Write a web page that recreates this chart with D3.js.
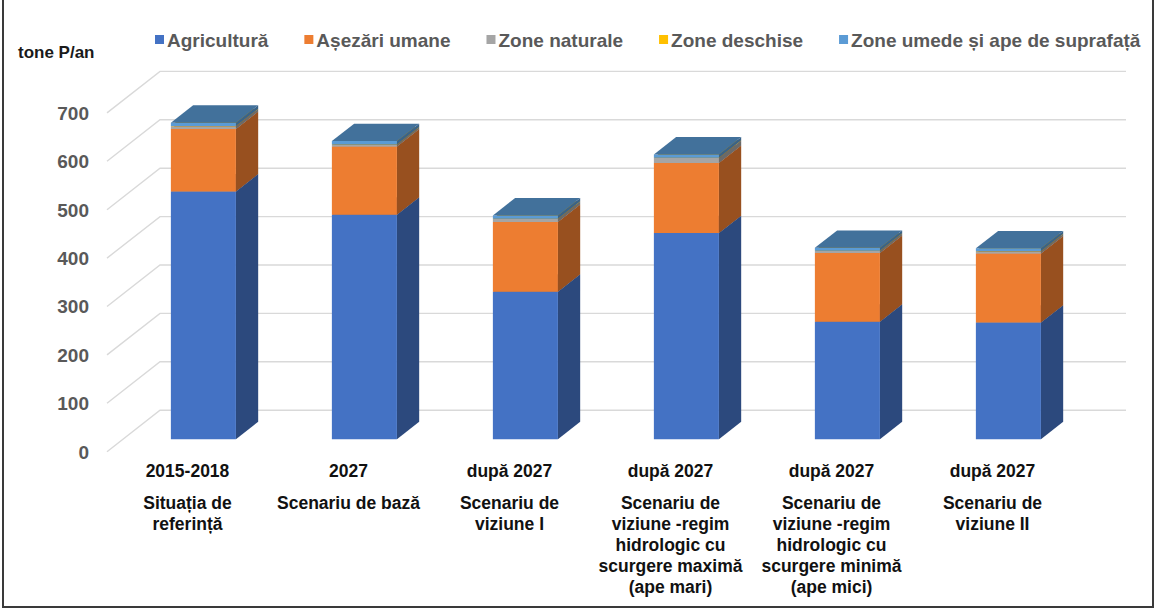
<!DOCTYPE html>
<html>
<head>
<meta charset="utf-8">
<script src="https://cdn.jsdelivr.net/npm/d3@7"></script>
<style>
  body { margin: 0; background: #fff; }
  svg { display: block; font-family: "Liberation Sans", Arial, sans-serif; }
</style>
</head>
<body>
<script>
// data (tone P/an)
const periods = ["2015-2018", "2027", "după 2027", "după 2027", "după 2027", "după 2027"];
const scenarioLines = [
  ["Situația de", "referință"],
  ["Scenariu de bază"],
  ["Scenariu de", "viziune I"],
  ["Scenariu de", "viziune -regim", "hidrologic cu", "scurgere maximă", "(ape mari)"],
  ["Scenariu de", "viziune -regim", "hidrologic cu", "scurgere minimă", "(ape mici)"],
  ["Scenariu de", "viziune II"]
];
const seriesNames = ["Agricultură", "Așezări umane", "Zone naturale", "Zone deschise", "Zone umede și ape de suprafață"];
const seriesColors = ["#4472c4", "#ed7d31", "#a5a5a5", "#ffc000", "#5b9bd5"];
const agricultura = [512, 464, 305, 426, 243, 241];
const asezariUmane = [129, 141, 144, 145, 142, 143];
const zoneNaturale = [5.5, 3.5, 6, 10, 4, 4];
const zoneDeschise = [0.5, 0.5, 0.5, 0.5, 0.5, 0.5];
const zoneUmede = [7, 7, 7, 7, 6, 6];
const yTicks = [0, 100, 200, 300, 400, 500, 600, 700];

const W = 1160, H = 611;
const svg = d3.select("body").append("svg")
  .attr("width", W)
  .attr("height", H);

// frame round the picture
svg.append("rect")
  .attr("x", 3).attr("y", -2)
  .attr("width", 1150).attr("height", 609)
  .attr("fill", "none")
  .attr("stroke", "#3a3a3a")
  .attr("stroke-width", 2);

const seriesValues = [agricultura, asezariUmane, zoneNaturale, zoneDeschise, zoneUmede];
const rows = periods.map((p, i) => {
  const r = { idx: i };
  seriesNames.forEach((s, k) => { r[s] = seriesValues[k][i]; });
  return r;
});
const stacked = d3.stack().keys(seriesNames)(rows);

// oblique 3d: z = 0 front of floor, z = 1 back wall
const depthX = 53, depthY = 41.5;
const zFront = 0.30, zBack = 0.72;

const x = d3.scaleBand()
  .domain(d3.range(periods.length))
  .range([107, 1073])
  .paddingInner(0.596)
  .paddingOuter(0.298);

const y = d3.scaleLinear()
  .domain([0, 700])
  .range([451.7, 112.9]);

const proj = (px, v, z) => [px + z * depthX, y(v) - z * depthY];
const pts = (arr) => arr.map(p => p.join(",")).join(" ");
const shade = (c, k) => { const r = d3.rgb(c); return d3.rgb(r.r * k, r.g * k, r.b * k).formatHex(); };

// gridlines: side wall diagonal + back wall horizontal
const [x0, x1] = x.range();
svg.append("g").selectAll("polyline")
  .data(yTicks)
  .join("polyline")
  .attr("points", d => pts([proj(x0, d, 0), proj(x0, d, 1), proj(x1, d, 1)]))
  .attr("fill", "none")
  .attr("stroke", "#d9d9d9")
  .attr("stroke-width", 1.4);

svg.append("g").selectAll("text")
  .data(yTicks)
  .join("text")
  .attr("x", 89)
  .attr("y", d => y(d))
  .attr("dy", "0.36em")
  .attr("text-anchor", "end")
  .attr("font-size", 19)
  .attr("font-weight", "bold")
  .attr("fill", "#595959")
  .text(d => d);

svg.append("text")
  .attr("x", 18).attr("y", 58)
  .attr("font-size", 17)
  .attr("font-weight", "bold")
  .attr("fill", "#1a1a1a")
  .text("tone P/an");

// bars, left to right, bottom segment first
const bars = svg.append("g");
periods.forEach((p, i) => {
  const bx0 = x(i), bx1 = x(i) + x.bandwidth();
  stacked.forEach((layer, k) => {
    const [v0, v1] = layer[i];
    if (v1 - v0 <= 0) return;
    const col = seriesColors[k];
    const g = bars.append("g");
    g.append("polygon")
      .attr("points", pts([proj(bx1, v0, zFront), proj(bx1, v0, zBack), proj(bx1, v1, zBack), proj(bx1, v1, zFront)]))
      .attr("fill", shade(col, 0.64));
    g.append("polygon")
      .attr("points", pts([proj(bx0, v0, zFront), proj(bx1, v0, zFront), proj(bx1, v1, zFront), proj(bx0, v1, zFront)]))
      .attr("fill", col);
    g.append("polygon")
      .attr("points", pts([proj(bx0, v1, zFront), proj(bx1, v1, zFront), proj(bx1, v1, zBack), proj(bx0, v1, zBack)]))
      .attr("fill", shade(col, 0.73));
  });
});

// category labels
const cats = svg.append("g")
  .attr("font-size", 17.5)
  .attr("font-weight", "bold")
  .attr("fill", "#111")
  .attr("text-anchor", "middle");
periods.forEach((p, i) => {
  const cx = x(i) + x.bandwidth() / 2;
  cats.append("text").attr("x", cx).attr("y", 477).text(p);
  scenarioLines[i].forEach((line, j) => {
    cats.append("text").attr("x", cx).attr("y", 509 + j * 21).text(line);
  });
});

// legend
const legend = svg.append("g");
let lx = 155;
seriesNames.forEach((s, k) => {
  legend.append("rect")
    .attr("x", lx).attr("y", 35)
    .attr("width", 9).attr("height", 9)
    .attr("fill", seriesColors[k]);
  const t = legend.append("text")
    .attr("x", lx + 12).attr("y", 46.5)
    .attr("font-size", 19)
    .attr("font-weight", "bold")
    .attr("fill", "#595959")
    .text(s);
  lx += 12 + t.node().getComputedTextLength() + 36;
});
</script>
</body>
</html>
